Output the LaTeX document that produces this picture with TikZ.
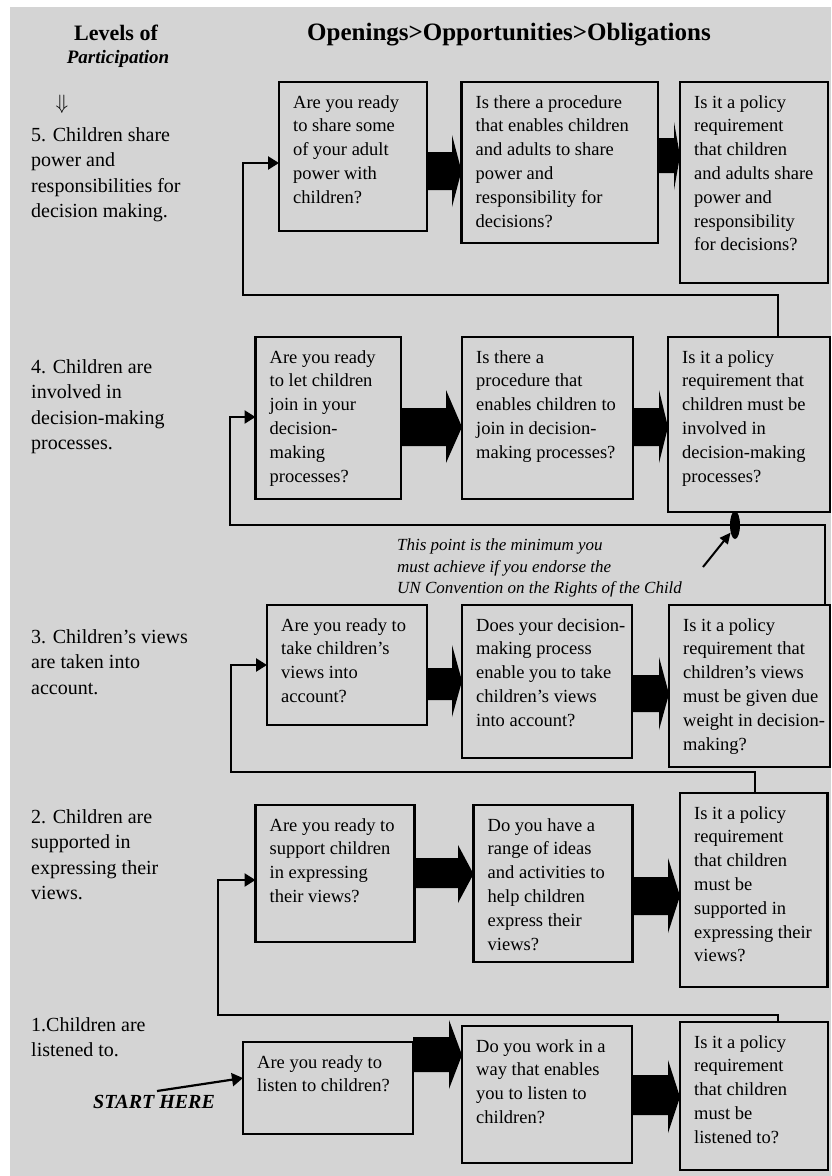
\documentclass[tikz,border=0pt]{standalone}
\usepackage{fontspec}
\setmainfont{Liberation Serif}
\usetikzlibrary{arrows.meta,shapes.geometric}
\definecolor{bg}{RGB}{212,212,212}
\tikzset{
  qbox/.style={draw, line width=2.8pt, fill=bg, anchor=north west, inner sep=0pt, outer sep=0pt},
  qtext/.style={anchor=north west, align=left, inner sep=0pt, font=\fontsize{18.5}{23.8}\selectfont},
  lvl/.style={anchor=north west, align=left, inner sep=0pt, font=\fontsize{20}{25.5}\selectfont},
  fb/.style={line width=2.4pt, -{Triangle[length=11pt,width=13pt]}},
  ptr/.style={line width=2pt, -{Triangle[length=11pt,width=10pt]}},
}
\newcommand\qb[6]{%
  \node[qbox, minimum width={#4-#2}, minimum height={#5-#3}] (#1) at (#2,-#3) {};
  \node[qtext] (#1t) at ([shift={(14,-13)}]#1.north west) {#6};}
% from, to, shaft top, shaft bottom, head top, head bottom, head base x, tip y
\newcommand\barrow[8]{%
  \fill (#1.east |- 0,-#3) -- (#7,-#3) -- (#7,-#5) -- (#2.west |- 0,-#8) -- (#7,-#6) -- (#7,-#4) -- (#1.east |- 0,-#4) -- cycle;}
\begin{document}
\begin{tikzpicture}[x=1pt,y=1pt]
\useasboundingbox (0,0) rectangle (831,-1176);
\fill[bg] (10,-7) rectangle (831,-1176);

% headers
\node[inner sep=0pt, anchor=base, font=\fontsize{22}{24}\selectfont\bfseries] (hlev) at (116,-40) {Levels of};
\node[inner sep=0pt, anchor=base, font=\fontsize{19}{24}\selectfont\bfseries\itshape] (hpart) at (118,-63) {Participation};
\node[inner sep=0pt, anchor=base, font=\fontsize{25}{28}\selectfont\bfseries] (htitle) at (509,-40) {Openings>Opportunities>Obligations};
\node[inner sep=0pt, font=\fontsize{21}{24}\selectfont] (hdown) at (62,-104) {$\Downarrow$};

% level labels
\node[lvl] (L5) at (31,-127) {5. Children share\\power and\\responsibilities for\\decision making.};
\node[lvl] (L4) at (31,-359) {4. Children are\\involved in\\decision-making\\processes.};
\node[lvl] (L3) at (31,-629) {3. Children’s views\\are taken into\\account.};
\node[lvl] (L2) at (31,-809) {2. Children are\\supported in\\expressing their\\views.};
\node[lvl] (L1) at (31,-1017) {1.Children are\\listened to.};

% row 5
\qb{B51}{279}{82}{427}{231}{Are you ready\\to share some\\of your adult\\power with\\children?}
\qb{B52}{461.5}{82}{658}{243}{Is there a procedure\\that enables children\\and adults to share\\power and\\responsibility for\\decisions?}
\qb{B53}{680}{82}{828}{283}{Is it a policy\\requirement\\that children\\and adults share\\power and\\responsibility\\for decisions?}
% row 4
\qb{B41}{255.5}{337}{401}{499}{Are you ready\\to let children\\join in your\\decision-\\making\\processes?}
\qb{B42}{462}{337}{633}{499}{Is there a\\procedure that\\enables children to\\join in decision-\\making processes?}
\qb{B43}{668}{337}{830}{512}{Is it a policy\\requirement that\\children must be\\involved in\\decision-making\\processes?}
% row 3
\qb{B31}{267}{605}{427}{725}{Are you ready to\\take children’s\\views into\\account?}
\qb{B32}{462}{605}{632}{758}{Does your decision-\\making process\\enable you to take\\children’s views\\into account?}
\qb{B33}{669}{605}{830}{767}{Is it a policy\\requirement that\\children’s views\\must be given due\\weight in decision-\\making?}
% row 2
\qb{B21}{255.5}{805}{414.5}{942}{Are you ready to\\support children\\in expressing\\their views?}
\qb{B22}{473.5}{805}{632.5}{962}{Do you have a\\range of ideas\\and activities to\\help children\\express their\\views?}
\qb{B23}{680}{793}{827.5}{987}{Is it a policy\\requirement\\that children\\must be\\supported in\\expressing their\\views?}
% row 1
\qb{B11}{243}{1042}{413}{1134}{Are you ready to\\listen to children?}
\qb{B12}{462}{1026}{632}{1163}{Do you work in a\\way that enables\\you to listen to\\children?}
\qb{B13}{680}{1022}{828}{1170}{Is it a policy\\requirement\\that children\\must be\\listened to?}

% block arrows
\barrow{B51}{B52}{152}{190}{135}{207}{452}{171}
\barrow{B52}{B53}{138}{173}{122}{190}{674}{156}
\barrow{B41}{B42}{408}{446}{390}{463}{446}{427}
\barrow{B42}{B43}{408}{446}{390}{463}{659}{427}
\barrow{B31}{B32}{668}{700}{645}{717}{452}{681}
\barrow{B32}{B33}{675}{712}{657}{730}{659}{694}
\barrow{B21}{B22}{858}{888}{845}{903}{458}{874}
\barrow{B22}{B23}{877}{915}{858}{933}{668}{896}
\barrow{B11}{B12}{1037}{1072}{1020}{1089}{449}{1055}
\barrow{B12}{B13}{1075}{1115}{1060}{1133}{668}{1097}

% feedback connectors
\draw[fb] (B43.north -| 778,0) |- (243,-295) |- (B51.west |- 0,-163);
\draw[fb] (B33.north -| 825,0) |- (230,-525) |- (B41.west |- 0,-417);
\draw[fb] (B23.north -| 755,0) |- (231,-772) |- (B31.west |- 0,-665);
\draw[fb] (B13.north -| 778,0) |- (218,-1015) |- (B21.west |- 0,-880);

% minimum point
\node[ellipse, fill=black, inner sep=0pt, minimum width=10pt, minimum height=28pt] (dot) at (735,-525) {};
\coordinate (ptrs) at (703,-567);
\draw[ptr] (ptrs) -- (dot.240);
\node[anchor=north west, align=left, inner sep=0pt, font=\fontsize{17}{21.5}\selectfont\itshape] (note) at (397,-538.5) {This point is the minimum you\\must achieve if you endorse the\\UN Convention on the Rights of the Child};

% start
\node[inner sep=0pt, anchor=base west, font=\fontsize{20}{24}\selectfont\bfseries\itshape] (start) at (93,-1108) {START HERE};
\coordinate (st) at (157,-1091);
\draw[fb, line width=2.2pt] (st) -- (B11.west |- 0,-1078);
\end{tikzpicture}
\end{document}
